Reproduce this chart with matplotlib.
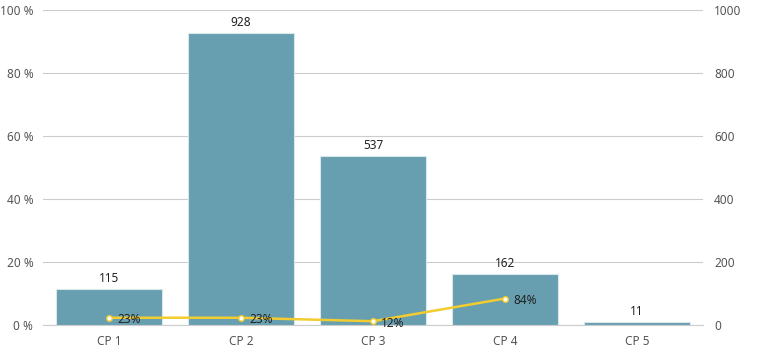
import numpy as np
import matplotlib
matplotlib.use("Agg")
from matplotlib import pyplot as plt

categories = ["CP 1", "CP 2", "CP 3", "CP 4", "CP 5"]
counts = [115, 928, 537, 162, 11]
rates = [23, 23, 12, 84]
pct_ticks = [0, 20, 40, 60, 80, 100]
count_ticks = [0, 200, 400, 600, 800, 1000]

plt.rcParams['font.family'] = ['Noto Sans', 'DejaVu Sans']

fig = plt.figure(figsize=(7.71, 3.51), dpi=100)
ax = fig.add_axes([43/771, 26/351, 660/771, 315/351])
ax2 = ax.twinx()

x = np.arange(len(categories))

# left axis: percent, grid only
ax.set_ylim(0, 100)
ax.set_yticks(pct_ticks)
ax.set_yticklabels([str(t) + " %" for t in pct_ticks])
ax.set_xlim(-0.5, len(categories) - 0.5)
ax.set_xticks(x)
ax.set_xticklabels(categories)
ax.grid(axis='y', color='#cccccc', linewidth=0.8)
ax.set_axisbelow(True)

# right axis: counts
ax2.set_ylim(0, 1000)
ax2.set_yticks(count_ticks)
ax2.bar(x, counts, width=0.8, color='#679fb0', edgecolor='#d7e7ec', linewidth=0.8, zorder=2)
for i, v in enumerate(counts):
    ax2.text(i, v + 12, str(v), ha='center', va='bottom', fontsize=8.5, color='#222222')

xl = x[:len(rates)]
ax2.plot(xl, rates, color='#f2cc30', linewidth=1.8, zorder=3,
         marker='o', markersize=4, markerfacecolor='white', markeredgecolor='#f2cc30', markeredgewidth=1)
for i, r in zip(xl, rates):
    ax2.text(i + 0.06, r - 6, str(r) + "%", ha='left', va='center', fontsize=8.5, color='#222222', zorder=4)

for a in (ax, ax2):
    for s in a.spines.values():
        s.set_visible(False)
    a.tick_params(length=0, labelsize=8.5, labelcolor='#555555')
ax.spines['bottom'].set_visible(True)
ax.spines['bottom'].set_color('#cccccc')
ax.tick_params(axis='x', pad=7)
ax.tick_params(axis='y', pad=7)
ax2.tick_params(axis='y', pad=8)

fig.savefig("out.png", dpi=100)
